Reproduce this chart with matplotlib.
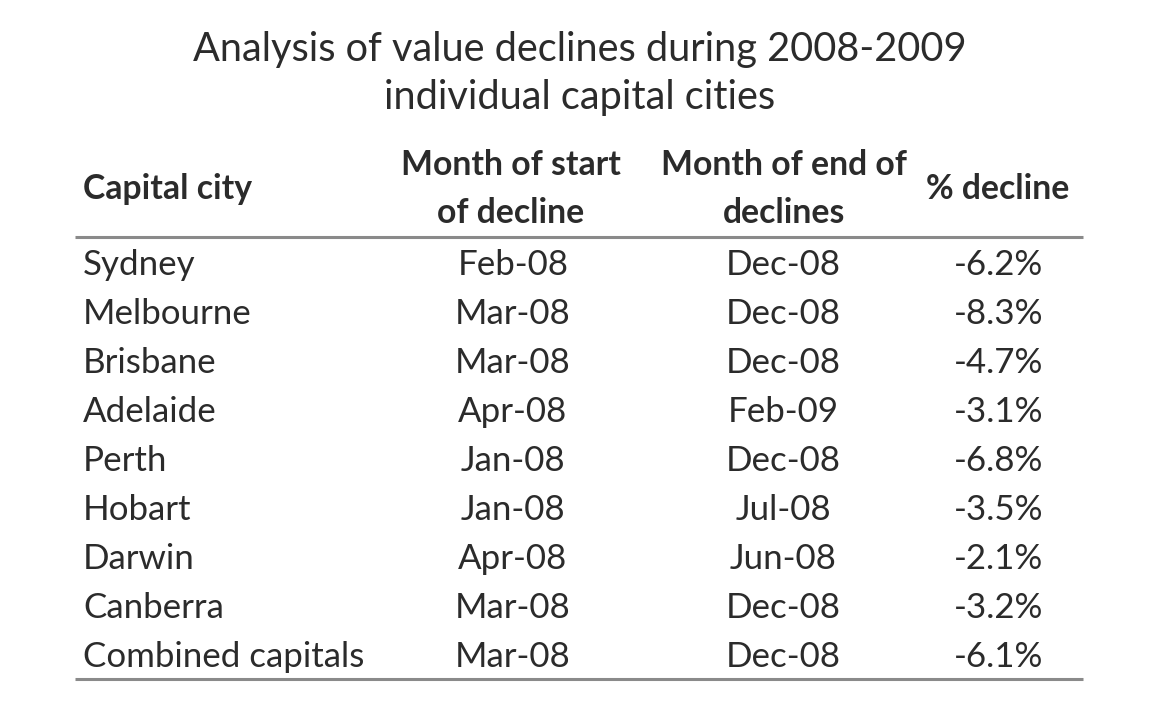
import matplotlib
matplotlib.use("Agg")
import matplotlib.pyplot as plt

cities = ["Sydney", "Melbourne", "Brisbane", "Adelaide", "Perth", "Hobart",
          "Darwin", "Canberra", "Combined capitals"]
start_months = ["Feb-08", "Mar-08", "Mar-08", "Apr-08", "Jan-08", "Jan-08",
                "Apr-08", "Mar-08", "Mar-08"]
end_months = ["Dec-08", "Dec-08", "Dec-08", "Feb-09", "Dec-08", "Jul-08",
              "Jun-08", "Dec-08", "Dec-08"]
declines = [-6.2, -8.3, -4.7, -3.1, -6.8, -3.5, -2.1, -3.2, -6.1]
title_lines = ["Analysis of value declines during 2008-2009", "individual capital cities"]

FONT = "Lato"
TXT = "#2b2b2b"
BODY = 25.1
HEAD = 24.3

fig = plt.figure(figsize=(11.6, 7.04), dpi=100)
ax = fig.add_axes([0, 0, 1, 1])
ax.set_xlim(0, 1160)
ax.set_ylim(704, 0)
ax.axis("off")

ax.text(580, 50, title_lines[0], ha="center", va="center", fontsize=28.6, family=FONT, color=TXT)
ax.text(580, 97, title_lines[1], ha="center", va="center", fontsize=28.6, family=FONT, color=TXT)

# header
kw = dict(va="center", fontsize=HEAD, family=FONT, weight="bold", color=TXT)
ax.text(83, 189, "Capital city", ha="left", **kw)
ax.text(511, 165, "Month of start", ha="center", **kw)
ax.text(511, 213, "of decline", ha="center", **kw)
ax.text(784, 165, "Month of end of", ha="center", **kw)
ax.text(784, 213, "declines", ha="center", **kw)
ax.text(998, 189, "% decline", ha="center", **kw)

ax.plot([75, 1083], [237, 237], color="#8a8a8a", lw=2.2, solid_capstyle="butt")
ax.plot([75, 1083], [679, 679], color="#8a8a8a", lw=2.2, solid_capstyle="butt")

y0, dy = 265, 49
bk = dict(va="center", fontsize=BODY, family=FONT, color=TXT)
for i, (c, s, e, d) in enumerate(zip(cities, start_months, end_months, declines)):
    y = y0 + i * dy
    ax.text(83, y, c, ha="left", **bk)
    ax.text(513, y, s, ha="center", **bk)
    ax.text(783, y, e, ha="center", **bk)
    ax.text(1043, y, f"{d:.1f}%", ha="right", **bk)

fig.savefig("out.png", dpi=100, facecolor="white")
